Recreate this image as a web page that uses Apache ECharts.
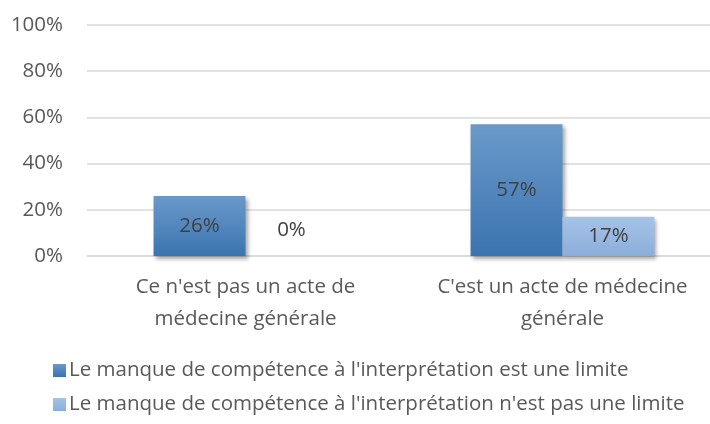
<!DOCTYPE html>
<html>
<head>
<meta charset="utf-8">
<script src="https://cdn.jsdelivr.net/npm/echarts@6/dist/echarts.min.js"></script>
<style>
  html, body { margin: 0; padding: 0; background: #fff; }
  #chart { width: 710px; height: 424px; }
</style>
</head>
<body>
<div id="chart"></div>
<script>
// ---- data ----
var categories = ["Ce n'est pas un acte de\nmédecine générale", "C'est un acte de médecine\ngénérale"];
var seriesNames = [
  "Le manque de compétence à l'interprétation est une limite",
  "Le manque de compétence à l'interprétation n'est pas une limite"
];
var limiteValues = [26, 57];
var pasLimiteValues = [0, 17];
var yTicks = [0, 20, 40, 60, 80, 100];

var FONT = '"Open Sans", sans-serif';
var FS = 20.5;

function grad(top, bottom) {
  return new echarts.graphic.LinearGradient(0, 0, 0, 1, [
    { offset: 0, color: top },
    { offset: 1, color: bottom }
  ]);
}

// zero bars get their label lifted above the axis
function toItems(values) {
  return values.map(function (v) {
    if (v === 0) {
      return { value: v, label: { position: 'top', distance: 15 } };
    }
    return v;
  });
}

var barShadow = {
  shadowColor: 'rgba(0,0,0,0.35)',
  shadowBlur: 4,
  shadowOffsetX: 2,
  shadowOffsetY: 3
};

var chart = echarts.init(document.getElementById('chart'));
chart.setOption({
  animation: false,
  textStyle: { fontFamily: FONT },
  grid: { left: 87, top: 25, width: 634, height: 231, outerBoundsMode: 'none', containLabel: false },
  xAxis: {
    type: 'category',
    data: categories,
    axisLine: { show: true, lineStyle: { color: '#d9d9d9', width: 1.5 } },
    axisTick: { show: false },
    axisLabel: {
      interval: 0, hideOverlap: false,
      color: '#595959', fontSize: FS, lineHeight: 32, margin: 15, fontFamily: FONT
    }
  },
  yAxis: {
    type: 'value',
    min: yTicks[0],
    max: yTicks[yTicks.length - 1],
    interval: 20,
    axisLine: { show: false },
    axisTick: { show: false },
    splitLine: { lineStyle: { color: '#d9d9d9', width: 1.5 } },
    axisLabel: {
      color: '#595959', fontSize: FS, margin: 24, fontFamily: FONT,
      formatter: function (v) { return v + '%'; }
    }
  },
  legend: {
    orient: 'vertical',
    left: 48,
    top: 355,
    itemWidth: 13,
    itemHeight: 13,
    itemGap: 13,
    icon: 'rect',
    textStyle: { color: '#595959', fontSize: FS, fontFamily: FONT, padding: [0, 0, 0, -2] },
    data: seriesNames
  },
  series: [
    {
      name: seriesNames[0],
      type: 'bar',
      data: toItems(limiteValues),
      barGap: '0%',
      barCategoryGap: '42%',
      itemStyle: Object.assign({ color: grad('#6a99c9', '#3b74b1') }, barShadow),
      label: {
        show: true, position: 'inside', color: '#404040', fontSize: FS, fontFamily: FONT,
        formatter: function (p) { return p.value + '%'; }
      }
    },
    {
      name: seriesNames[1],
      type: 'bar',
      data: toItems(pasLimiteValues),
      itemStyle: Object.assign({ color: grad('#a6c3e7', '#8aaedb') }, barShadow),
      label: {
        show: true, position: 'inside', color: '#404040', fontSize: FS, fontFamily: FONT,
        formatter: function (p) { return p.value + '%'; }
      }
    }
  ]
});
</script>
</body>
</html>
